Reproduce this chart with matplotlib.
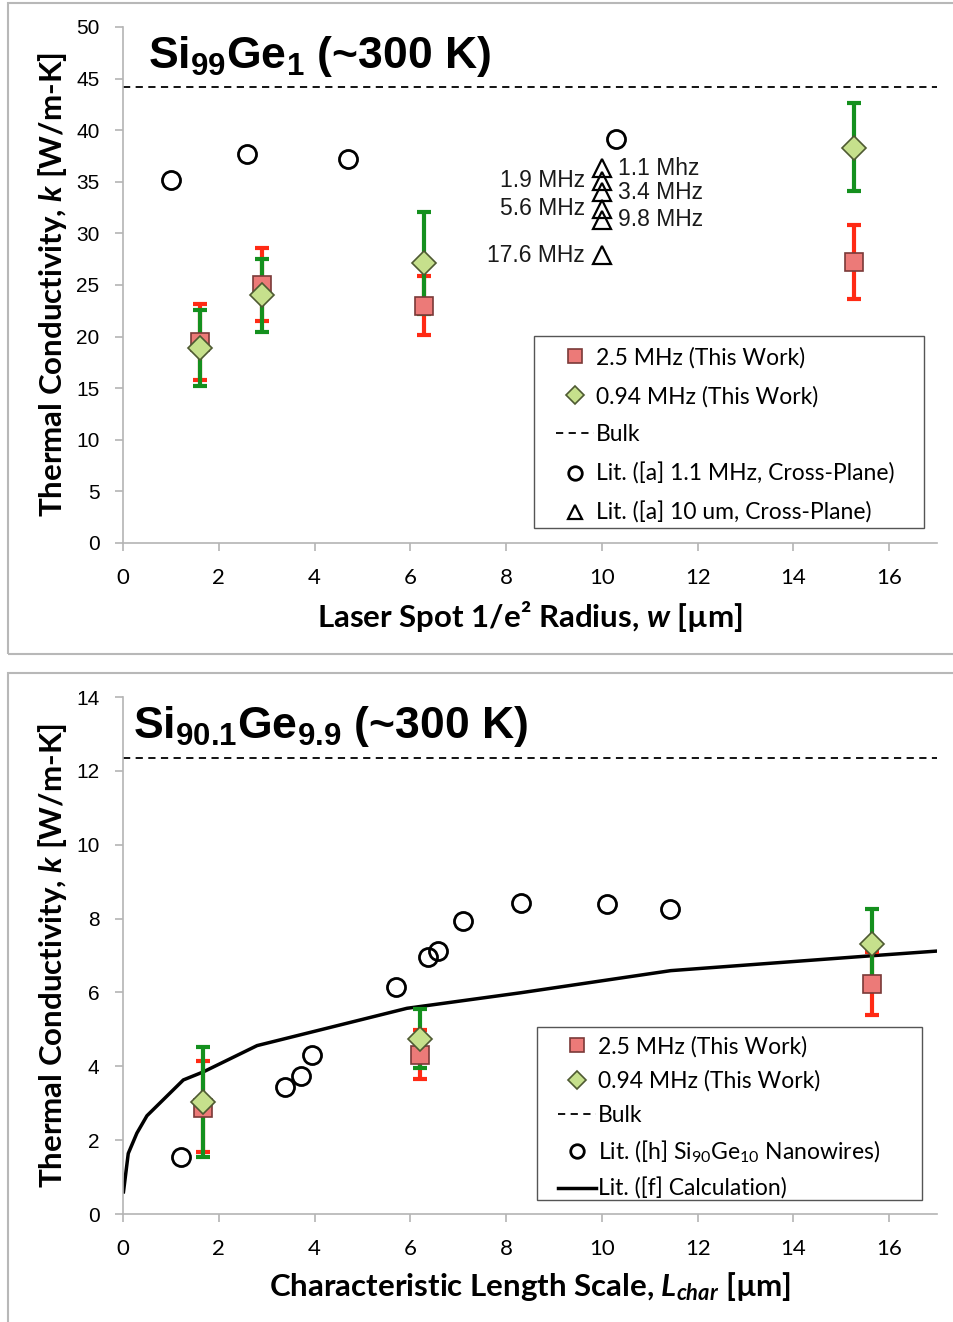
import matplotlib.pyplot as plt
from matplotlib.patches import Rectangle

plt.rcParams["mathtext.default"] = "regular"
plt.rcParams["mathtext.fontset"] = "custom"
plt.rcParams["mathtext.it"] = "Lato:italic:bold"
plt.rcParams["mathtext.bf"] = "Liberation Sans:bold"

# ---- Si99Ge1 data ----
top_w_25 = [1.6, 2.9, 6.28, 15.27]
top_k_25 = [19.5, 25.0, 23.0, 27.2]
top_err_25_lo = [3.7, 3.5, 2.8, 3.6]
top_err_25_hi = [3.7, 3.6, 2.9, 3.6]

top_w_094 = [1.6, 2.9, 6.28, 15.27]
top_k_094 = [18.9, 24.0, 27.1, 38.3]
top_err_094_lo = [3.7, 3.6, 4.9, 4.2]
top_err_094_hi = [3.7, 3.5, 5.0, 4.3]

top_bulk = 44.2

top_lit_w = [1.0, 2.6, 4.69, 10.3]
top_lit_k = [35.2, 37.7, 37.2, 39.1]

top_tri_w = [10.0, 10.0, 10.0, 10.0, 10.0, 10.0]
top_tri_k = [36.3, 35.1, 34.0, 32.4, 31.3, 27.9]
top_tri_labels = ["1.1 Mhz", "1.9 MHz", "3.4 MHz", "5.6 MHz", "9.8 MHz", "17.6 MHz"]
top_tri_side = ["right", "left", "right", "left", "right", "left"]

# ---- Si90.1Ge9.9 data ----
bot_l_25 = [1.67, 6.21, 15.65]
bot_k_25 = [2.87, 4.31, 6.24]
bot_err_25_lo = [1.2, 0.65, 0.85]
bot_err_25_hi = [1.28, 0.67, 0.86]

bot_l_094 = [1.67, 6.21, 15.65]
bot_k_094 = [3.03, 4.75, 7.31]
bot_err_094_lo = [1.48, 0.8, 0.9]
bot_err_094_hi = [1.5, 0.8, 0.96]

bot_bulk = 12.35

bot_nw_l = [1.21, 3.39, 3.72, 3.95, 5.71, 6.38, 6.57, 7.11, 8.31, 10.1, 11.42]
bot_nw_k = [1.54, 3.44, 3.74, 4.31, 6.15, 6.96, 7.12, 7.93, 8.42, 8.39, 8.26]

calc_l = [0.01, 0.11, 0.29, 0.50, 1.26, 1.68, 2.80, 5.93, 8.30, 11.44, 15.6, 17.0]
calc_k = [0.6, 1.64, 2.19, 2.66, 3.63, 3.85, 4.56, 5.57, 5.99, 6.59, 6.99, 7.12]

RED = "#ff2a14"
GREEN = "#14901e"
SQ_FACE = "#ec7a78"
SQ_EDGE = "#7a3a38"
DI_FACE = "#c6e08c"
DI_EDGE = "#4e5a32"
SPINE = "#b4b4b4"

W, H = 954, 1322
fig = plt.figure(figsize=(W / 100, H / 100), dpi=100)


def px_box(x0, y0, x1, y1, **kw):
    # rectangle given in pixel corners (origin top-left)
    fig.patches.append(Rectangle((x0 / W, 1 - y1 / H), (x1 - x0) / W, (y1 - y0) / H,
                                 transform=fig.transFigure, fill=False, **kw))


# panel frames
px_box(8, 3, W + 10, 654, edgecolor="#b8b8b8", linewidth=1.5)
px_box(8, 673, W + 10, 1330, edgecolor="#b8b8b8", linewidth=1.5)


def make_axes(top_px, bottom_px):
    ax = fig.add_axes([123 / W, 1 - bottom_px / H, (937 - 123) / W, (bottom_px - top_px) / H])
    for s in ["top", "right"]:
        ax.spines[s].set_visible(False)
    for s in ["left", "bottom"]:
        ax.spines[s].set_color(SPINE)
        ax.spines[s].set_linewidth(1.2)
    ax.tick_params(axis="both", direction="out", length=6, color=SPINE, width=1.2)
    ax.tick_params(axis="y", pad=11, labelsize=15)
    ax.tick_params(axis="x", pad=12, labelsize=16)
    ax.set_xlim(0, 17)
    ax.set_xticks(range(0, 17, 2))
    return ax


def style_ticks(ax):
    for t in ax.get_yticklabels():
        t.set_family("Liberation Sans")
    for t in ax.get_xticklabels():
        t.set_family("Lato")


def draw_series(ax, x25, k25, e25, x094, k094, e094):
    ax.errorbar(x094, k094, yerr=e094, fmt="none", ecolor=GREEN, elinewidth=3,
                capsize=5, capthick=3, zorder=3)
    ax.errorbar(x25, k25, yerr=e25, fmt="none", ecolor=RED, elinewidth=3,
                capsize=5, capthick=3, zorder=2.5)
    ax.plot(x25, k25, "s", ms=13, mfc=SQ_FACE, mec=SQ_EDGE, mew=1.2, zorder=4,
            label="2.5 MHz (This Work)")
    ax.plot(x094, k094, "D", ms=12.5, mfc=DI_FACE, mec=DI_EDGE, mew=1.2, zorder=5,
            label="0.94 MHz (This Work)")


def boxed_legend(ax, names, anchor_px, frame_px, spacing):
    h, l = ax.get_legend_handles_labels()
    order = [l.index(n) for n in names]
    leg = ax.legend([h[i] for i in order], [l[i] for i in order],
                    loc="upper left", bbox_to_anchor=(anchor_px[0] / W, 1 - anchor_px[1] / H),
                    bbox_transform=fig.transFigure, prop=LEG_FONT, markerscale=0.75,
                    frameon=False, handlelength=1.65, handletextpad=0.1,
                    labelspacing=spacing, borderpad=0, borderaxespad=0)
    px_box(*frame_px, edgecolor="#555555", linewidth=1.0)
    return leg


LABEL_FONT = dict(family="Lato", fontweight="bold", fontsize=22.5)
LEG_FONT = {"family": "Lato", "size": 16.5}

# ---------------- top panel ----------------
ax1 = make_axes(27, 543)
ax1.set_ylim(0, 50)
ax1.set_yticks(range(0, 51, 5))
draw_series(ax1, top_w_25, top_k_25, [top_err_25_lo, top_err_25_hi],
            top_w_094, top_k_094, [top_err_094_lo, top_err_094_hi])
ax1.axhline(top_bulk, color="black", lw=1.3, ls=(0, (4, 3)), label="Bulk")
ax1.plot(top_lit_w, top_lit_k, "o", ms=13, mfc="white", mec="black", mew=2,
         label="Lit. ([a] 1.1 MHz, Cross-Plane)")
ax1.plot(top_tri_w, top_tri_k, "^", ms=13, mfc="none", mec="black", mew=1.6,
         label="Lit. ([a] 10 um, Cross-Plane)")
for xv, kv, lab, side in zip(top_tri_w, top_tri_k, top_tri_labels, top_tri_side):
    dx = 12 if side == "right" else -12
    ax1.annotate(lab, (xv, kv), xytext=(dx, 0), textcoords="offset points",
                 ha="left" if side == "right" else "right", va="center",
                 fontsize=16.5, family="Liberation Sans", color="#1a1a1a")

boxed_legend(ax1, ["2.5 MHz (This Work)", "0.94 MHz (This Work)", "Bulk",
                   "Lit. ([a] 1.1 MHz, Cross-Plane)", "Lit. ([a] 10 um, Cross-Plane)"],
             (556, 347), (534, 336, 924, 528), 0.75)

ax1.set_ylabel(r"Thermal Conductivity, $\mathit{k}$ [W/m-K]", labelpad=5, **LABEL_FONT)
ax1.set_xlabel("Laser Spot 1/e² Radius, $\\mathit{w}$ [µm]", labelpad=8, **LABEL_FONT)
ax1.text(148 / W, 1 - 68 / H, r"$\mathbf{Si_{99}Ge_{1}}$ (~300 K)", transform=fig.transFigure,
         family="Liberation Sans", fontweight="bold", fontsize=32, va="baseline")
style_ticks(ax1)

# ---------------- bottom panel ----------------
ax2 = make_axes(697, 1214)
ax2.set_ylim(0, 14)
ax2.set_yticks(range(0, 15, 2))
draw_series(ax2, bot_l_25, bot_k_25, [bot_err_25_lo, bot_err_25_hi],
            bot_l_094, bot_k_094, [bot_err_094_lo, bot_err_094_hi])
ax2.axhline(bot_bulk, color="black", lw=1.3, ls=(0, (4, 3)), label="Bulk")
ax2.plot(bot_nw_l, bot_nw_k, "o", ms=13, mfc="none", mec="black", mew=2,
         label=r"Lit. ([h] Si$_{90}$Ge$_{10}$ Nanowires)")
ax2.plot(calc_l, calc_k, "-", color="black", lw=2.5, label="Lit. ([f] Calculation)")

boxed_legend(ax2, ["2.5 MHz (This Work)", "0.94 MHz (This Work)", "Bulk",
                   r"Lit. ([h] Si$_{90}$Ge$_{10}$ Nanowires)", "Lit. ([f] Calculation)"],
             (558, 1036), (537, 1027, 922, 1200), 0.56)

ax2.set_ylabel(r"Thermal Conductivity, $\mathit{k}$ [W/m-K]", labelpad=5, **LABEL_FONT)
ax2.set_xlabel(r"Characteristic Length Scale, $\mathit{L}_{\mathit{char}}$ [µm]",
               labelpad=8, **LABEL_FONT)
ax2.text(133 / W, 1 - 738 / H, r"$\mathbf{Si_{90.1}Ge_{9.9}}$ (~300 K)",
         transform=fig.transFigure,
         family="Liberation Sans", fontweight="bold", fontsize=32, va="baseline")
style_ticks(ax2)

fig.savefig("out.png", dpi=100)
